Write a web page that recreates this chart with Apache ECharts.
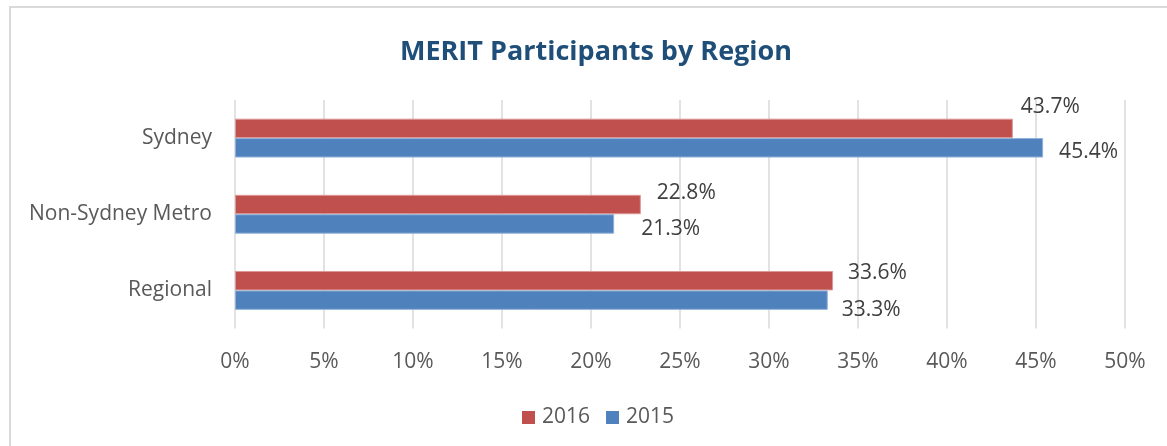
<!DOCTYPE html>
<html>
<head>
<meta charset="utf-8">
<title>MERIT Participants by Region</title>
<script src="https://cdn.jsdelivr.net/npm/echarts@6/dist/echarts.min.js"></script>
<style>
    html, body{
        margin: 0;
        padding: 0;
        background: #fff;
    }
    #chart{
        width: 1167px;
        height: 446px;
    }
</style>
</head>
<body>
<div id="chart"></div>
<script>
    // 数据
    var regions = ['Sydney', 'Non-Sydney Metro', 'Regional'];
    var years = ['2016', '2015'];
    var values2016 = [43.7, 22.8, 33.6];
    var values2015 = [45.4, 21.3, 33.3];
    var xTicks = [0, 5, 10, 15, 20, 25, 30, 35, 40, 45, 50];

    var redColor = '#C0504D';
    var blueColor = '#4F81BD';
    var font = '"Open Sans", "Liberation Sans", sans-serif';
    // 标签手动偏移（原图标签是手动拖放的）
    var redLabelOffsets = [[3, -21], [11, -12], [10, -8]];
    var blueLabelOffsets = [[11, 4], [22, 5], [9, 10]];

    var mychart = echarts.init(document.getElementById('chart'));

    function pct(p) {
        return p.value.toFixed(1) + '%';
    }

    function withOffsets(values, offsets) {
        return values.map(function (v, i) {
            return {value: v, label: {offset: offsets[i]}};
        });
    }

    var labelStyle = {
        show: true,
        position: 'right',
        fontFamily: font,
        fontSize: 21,
        color: '#404040',
        formatter: pct
    };

    var option = {
        backgroundColor: '#fff',
        animation: false,
        textStyle: {fontFamily: font},
        //外框
        graphic: [{
            type: 'rect',
            shape: {x: 10, y: 7, width: 1300, height: 600},
            style: {fill: 'none', stroke: '#d9d9d9', lineWidth: 2},
            silent: true
        }],
        title: {
            text: 'MERIT Participants by Region',
            left: 591,
            textAlign: 'center',
            top: 34,
            textStyle: {
                fontFamily: font,
                fontSize: 27,
                fontWeight: 'bold',
                color: '#1F4E79'
            }
        },
        legend: {
            data: years,
            left: 517,
            top: 402,
            itemWidth: 13,
            itemHeight: 13,
            itemGap: 16,
            icon: 'rect',
            itemStyle: {borderWidth: 0},
            textStyle: {fontFamily: font, fontSize: 21, color: '#595959', padding: [0, 0, 0, 2]}
        },
        grid: {
            left: 235,
            right: 42,
            top: 100,
            bottom: 117.5,
            containLabel: false
        },
        xAxis: {
            type: 'value',
            min: xTicks[0],
            max: xTicks[xTicks.length - 1],
            interval: 5,
            axisLine: {show: false},
            axisTick: {show: false},
            axisLabel: {
                margin: 23,
                fontFamily: font,
                fontSize: 21,
                color: '#595959',
                formatter: '{value}%'
            },
            splitLine: {show: true, lineStyle: {color: '#d9d9d9', width: 1.5}}
        },
        yAxis: {
            type: 'category',
            data: regions,
            inverse: true,
            axisLine: {show: false},
            axisTick: {show: false},
            axisLabel: {
                margin: 23,
                fontFamily: font,
                fontSize: 21,
                color: '#595959'
            }
        },
        series: [{
            name: years[0],
            type: 'bar',
            data: withOffsets(values2016, redLabelOffsets),
            barGap: '0%',
            barCategoryGap: '49%',
            itemStyle: {color: redColor, borderColor: '#dc9896', borderWidth: 1},
            label: labelStyle
        }, {
            name: years[1],
            type: 'bar',
            data: withOffsets(values2015, blueLabelOffsets),
            barGap: '0%',
            barCategoryGap: '49%',
            itemStyle: {color: blueColor, borderColor: '#8fb0d8', borderWidth: 1},
            label: labelStyle
        }]
    };
    mychart.setOption(option);
</script>
</body>
</html>
